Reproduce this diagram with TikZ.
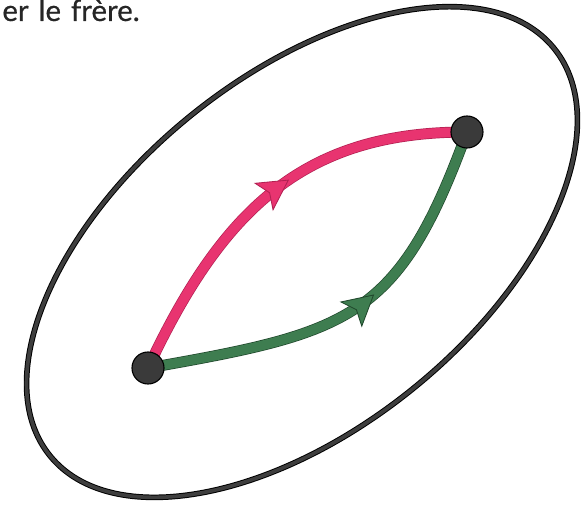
\documentclass[tikz,border=0pt]{standalone}
\usepackage{fontspec}
\usepackage{xcolor}
\usepackage{tikz}
\usetikzlibrary{arrows.meta,decorations.markings}
\newfontfamily\capfont[FakeBold=0.5,WordSpace=1.3]{Lato}
\definecolor{ringcolor}{RGB}{62,62,62}
\definecolor{pathpink}{RGB}{232,52,112}
\definecolor{pinkedge}{RGB}{178,32,82}
\definecolor{pathgreen}{RGB}{62,125,80}
\definecolor{greenedge}{RGB}{32,72,44}
\definecolor{dotcolor}{RGB}{58,58,58}

\begin{document}
\begin{tikzpicture}[x=0.025cm,y=0.025cm,
  ringline/.style={draw=black,line width=4pt,postaction={draw=ringcolor,line width=2.6pt}},
  dot/.style={draw=black,line width=0.8pt,circle,fill=dotcolor,minimum size=0.8cm,inner sep=0pt},
  arc/.style={draw=#1,line width=6.8pt,preaction={draw=#1edge,line width=7.8pt},postaction={decorate},
    decoration={markings,mark=at position 0.56 with {\arrow[#1edge]{Stealth[length=22pt,width=24pt,inset=5pt,line width=0.6pt,fill=path#1]}}}}]
\useasboundingbox (0,0) rectangle (581,507);
\clip (0,0) rectangle (581,507);
\node[font=\capfont\fontsize{21pt}{25pt}\selectfont,anchor=base east,text=black!85,inner sep=0pt] (cap) at (140,486) {er le frère.};
% outer ring
\coordinate (ctr) at (302,255);
\draw[ringline,rotate around={38.9:(ctr)}] (ctr) ellipse [x radius=8.1cm,y radius=4.4cm];
% the two ways between the points
\coordinate (lo) at (148,139);
\coordinate (hi) at (467,375);
\draw[arc=pink,draw=pathpink] (lo) .. controls +(65:183) and +(180:157) .. (hi);
\draw[arc=green,draw=pathgreen] (lo) .. controls +(10:205) and +(250:200) .. (hi);
\node[dot] (lodot) at (lo) {};
\node[dot] (hidot) at (hi) {};
\end{tikzpicture}
\end{document}
